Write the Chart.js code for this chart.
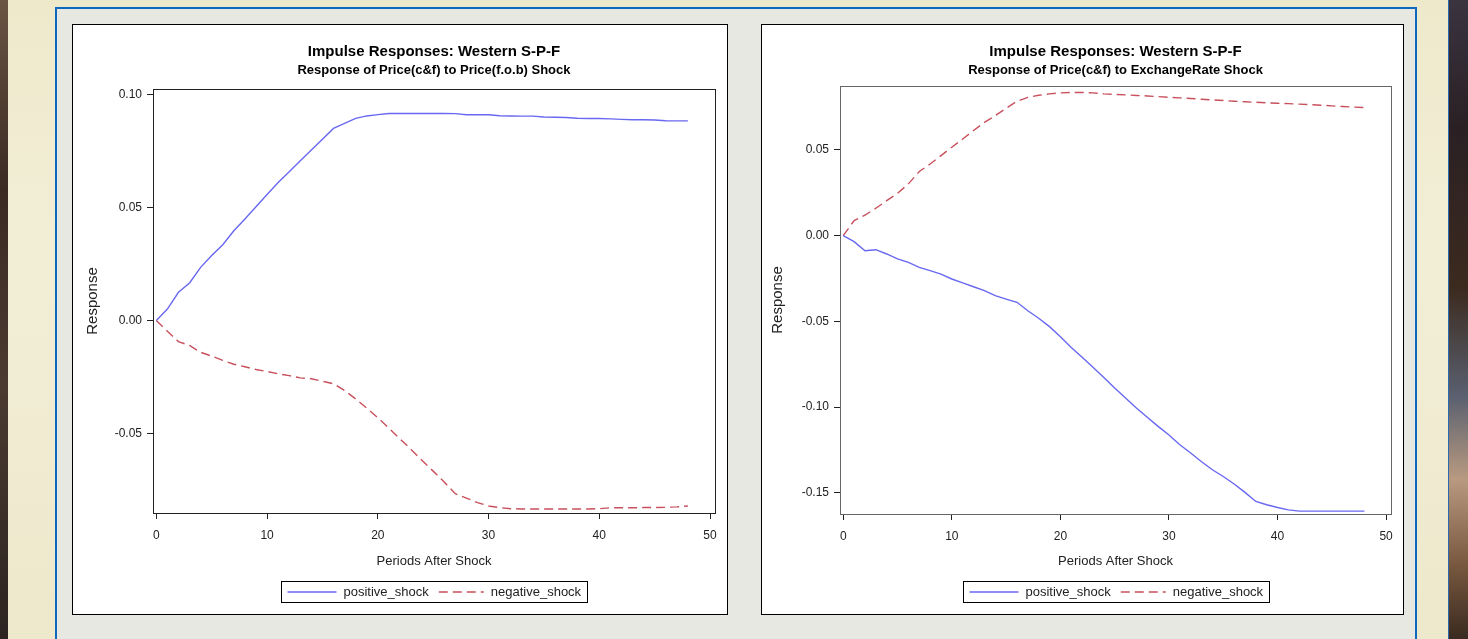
<!DOCTYPE html>
<html>
<head>
<meta charset="utf-8">
<script src="https://cdn.jsdelivr.net/npm/chart.js@4/dist/chart.umd.min.js"></script>
<style>
  html,body{margin:0;padding:0;}
  body{width:1468px;height:639px;overflow:hidden;position:relative;
       background:linear-gradient(180deg,#efe9cc 0%,#f2eed6 40%,#eee8cc 100%);
       font-family:"Liberation Sans",Arial,sans-serif;}
  #stripL{position:absolute;left:0;top:0;width:8px;height:639px;
       background:linear-gradient(180deg,#6a5443 0%,#3a2a22 30%,#4a3a30 60%,#2c2420 100%);}
  #stripR{position:absolute;left:1448px;top:0;width:20px;height:639px;
       background:linear-gradient(180deg,#3a3440 0%,#2a2024 20%,#3b2a1e 45%,#5a6070 62%,#b89a80 75%,#7a5a40 88%,#3a2a20 100%);
       border-left:1px solid #2a6ab0;}
  #panel{position:absolute;left:55px;top:7px;width:1358px;height:660px;
       border:2px solid #0a68be;background:#e8e8e3;}
  .box{position:absolute;top:24px;height:589px;border:1px solid #000;background:#fff;}
  #boxL{left:72px;width:654px;}
  #boxR{left:761px;width:641px;}
  canvas{position:absolute;left:0;top:0;}
</style>
</head>
<body>
<div id="stripL"></div>
<div id="stripR"></div>
<div id="panel"></div>
<div class="box" id="boxL"><canvas id="c1" width="654" height="589"></canvas></div>
<div class="box" id="boxR"><canvas id="c2" width="641" height="589"></canvas></div>
<script>
// ---------- data ----------
const periods = [0,1,2,3,4,5,6,7,8,9,10,11,12,13,14,15,16,17,18,19,20,21,22,23,24,25,26,27,28,29,30,31,32,33,34,35,36,37,38,39,40,41,42,43,44,45,46,47,48];

const seriesNames = ['positive_shock', 'negative_shock'];

// Chart 1: Response of Price(c&f) to Price(f.o.b) Shock
const fobPositive = [0,0.0051,0.0125,0.0166,0.0235,0.0287,0.0335,0.0397,0.0449,0.0503,0.0557,0.0610,0.0657,0.0706,0.0754,0.0801,0.0849,0.0871,0.0893,0.0904,0.0910,0.0915,0.0915,0.0915,0.0915,0.0915,0.0915,0.0914,0.0909,0.0909,0.0909,0.0905,0.0904,0.0903,0.0903,0.0899,0.0898,0.0897,0.0894,0.0893,0.0893,0.0891,0.0889,0.0887,0.0887,0.0886,0.0883,0.0882,0.0882];
const fobNegative = [0,-0.0047,-0.0093,-0.0110,-0.0140,-0.0157,-0.0176,-0.0193,-0.0204,-0.0216,-0.0225,-0.0235,-0.0243,-0.0253,-0.0257,-0.0268,-0.0279,-0.0309,-0.0346,-0.0387,-0.0429,-0.0475,-0.0522,-0.0569,-0.0618,-0.0665,-0.0713,-0.0765,-0.0784,-0.0804,-0.0819,-0.0826,-0.0831,-0.0832,-0.0832,-0.0832,-0.0832,-0.0832,-0.0832,-0.0832,-0.0831,-0.0827,-0.0827,-0.0827,-0.0826,-0.0826,-0.0825,-0.0823,-0.0819];

// Chart 2: Response of Price(c&f) to ExchangeRate Shock
const exrPositive = [0,-0.0035,-0.0088,-0.0082,-0.0107,-0.0136,-0.0156,-0.0185,-0.0204,-0.0224,-0.0253,-0.0276,-0.0298,-0.0321,-0.0350,-0.0370,-0.0389,-0.0438,-0.0482,-0.0531,-0.0590,-0.0652,-0.0710,-0.0768,-0.0827,-0.0889,-0.0947,-0.1006,-0.1060,-0.1113,-0.1163,-0.1220,-0.1268,-0.1319,-0.1366,-0.1405,-0.1449,-0.1498,-0.1551,-0.1570,-0.1586,-0.1600,-0.1607,-0.1607,-0.1607,-0.1607,-0.1607,-0.1607,-0.1607];
const exrNegative = [0,0.0088,0.0120,0.0160,0.0204,0.0247,0.0302,0.0374,0.0418,0.0467,0.0516,0.0564,0.0613,0.0661,0.0700,0.0743,0.0784,0.0807,0.0819,0.0827,0.0833,0.0835,0.0835,0.0833,0.0827,0.0824,0.0821,0.0818,0.0815,0.0811,0.0807,0.0804,0.0800,0.0796,0.0792,0.0788,0.0784,0.0781,0.0778,0.0775,0.0772,0.0770,0.0767,0.0764,0.0761,0.0757,0.0753,0.0750,0.0747];

const xTickValues = [0,10,20,30,40,50];
const xTickLabels = ['0','10','20','30','40','50'];
const yTicks1 = [-0.05,0,0.05,0.10];
const yTickLabels1 = ['-0.05','0.00','0.05','0.10'];
const yTicks2 = [-0.15,-0.10,-0.05,0,0.05];
const yTickLabels2 = ['-0.15','-0.10','-0.05','0.00','0.05'];

const mainTitle = 'Impulse Responses: Western S-P-F';
const subTitle1 = 'Response of Price(c&f) to Price(f.o.b) Shock';
const subTitle2 = 'Response of Price(c&f) to ExchangeRate Shock';
const xAxisTitle = 'Periods After Shock';
const yAxisTitle = 'Response';

// ---------- styling ----------
const FONT = '"Liberation Sans", Arial, sans-serif';
const BLUE = '#6868f0';
const RED = '#c8505c';

const decorPlugin = {
  id: 'decor',
  afterDraw(chart, args, opts) {
    const ctx = chart.ctx;
    const a = chart.chartArea;
    const cx = (a.left + a.right) / 2;
    ctx.save();
    // frame
    ctx.strokeStyle = opts.frameColor;
    ctx.lineWidth = 1;
    ctx.strokeRect(Math.round(a.left) + 0.5, Math.round(a.top) + 0.5,
                   Math.round(a.right - a.left), Math.round(a.bottom - a.top));
    // titles
    ctx.fillStyle = '#000';
    ctx.textAlign = 'center';
    ctx.textBaseline = 'alphabetic';
    ctx.font = 'bold 15px ' + FONT;
    ctx.fillText(opts.title, cx, 30.7);
    ctx.font = 'bold 13px ' + FONT;
    ctx.fillText(opts.subtitle, cx, 49.3);
    // legend
    const ds = chart.data.datasets;
    ctx.font = '13px ' + FONT;
    const sampleW = [49, 45];
    const tw = ds.map(d => ctx.measureText(d.label).width);
    const pad = 6, gapT = 7, gapS = 10;
    const boxW = pad + sampleW[0] + gapT + tw[0] + gapS + sampleW[1] + gapT + tw[1] + pad;
    const bx = Math.round(cx - boxW / 2) + 0.5;
    const by = opts.legendTop + 0.5;
    const bh = 21;
    ctx.strokeStyle = '#000';
    ctx.lineWidth = 1;
    ctx.strokeRect(bx, by, Math.round(boxW), bh);
    const my = by + bh / 2;
    let x = bx + pad;
    ds.forEach((d, i) => {
      ctx.save();
      ctx.strokeStyle = d.borderColor;
      ctx.lineWidth = d.borderWidth;
      ctx.setLineDash(d.borderDash || []);
      ctx.beginPath();
      ctx.moveTo(x, my);
      ctx.lineTo(x + sampleW[i], my);
      ctx.stroke();
      ctx.restore();
      x += sampleW[i] + gapT;
      ctx.fillStyle = '#222';
      ctx.textAlign = 'left';
      ctx.textBaseline = 'middle';
      ctx.fillText(d.label, x, my + 0.5);
      x += tw[i] + gapS;
    });
    ctx.restore();
  }
};

function makeChart(id, pos, neg, cfg) {
  const toPts = arr => periods.map((p, i) => ({x: p, y: arr[i]}));
  return new Chart(document.getElementById(id), {
    type: 'line',
    data: {
      datasets: [
        {label: seriesNames[0], data: toPts(pos), borderColor: BLUE, borderWidth: 1.4, pointRadius: 0, tension: 0, fill: false},
        {label: seriesNames[1], data: toPts(neg), borderColor: RED, borderWidth: 1.4, borderDash: [9, 5], pointRadius: 0, tension: 0, fill: false}
      ]
    },
    plugins: [decorPlugin],
    options: {
      responsive: false,
      animation: false,
      devicePixelRatio: 1,
      events: [],
      layout: {padding: {left: 0, right: cfg.padRight, top: cfg.padTop, bottom: 0}},
      plugins: {
        legend: {display: false},
        title: {display: false},
        tooltip: {enabled: false},
        decor: {title: mainTitle, subtitle: cfg.subtitle, frameColor: cfg.frameColor, legendTop: 556}
      },
      scales: {
        x: {
          type: 'linear',
          min: -0.3, max: 50.45,
          afterBuildTicks: s => { s.ticks = xTickValues.map(v => ({value: v})); },
          afterFit: s => { s.height = cfg.xHeight; },
          ticks: {
            font: {family: FONT, size: 12}, color: '#222', padding: 9, maxRotation: 0,
            callback: (v, i) => xTickLabels[i]
          },
          grid: {display: true, drawOnChartArea: false, drawTicks: true, tickLength: 6, color: '#222'},
          border: {display: false},
          title: {display: true, text: xAxisTitle, font: {family: FONT, size: 13}, color: '#222', padding: {top: 0, bottom: 44.7}}
        },
        y: {
          type: 'linear',
          min: cfg.yMin, max: cfg.yMax,
          afterBuildTicks: s => { s.ticks = cfg.yTicks.map(v => ({value: v})); },
          afterFit: s => { s.width = cfg.yWidth; },
          ticks: {
            font: {family: FONT, size: 12}, color: '#222', padding: 5,
            callback: (v, i) => cfg.yLabels[i]
          },
          grid: {display: true, drawOnChartArea: false, drawTicks: true, tickLength: 6, color: '#222'},
          border: {display: false},
          title: {display: true, text: yAxisTitle, font: {family: FONT, size: 15}, color: '#222', padding: {top: cfg.yTitlePad, bottom: 0}}
        }
      }
    }
  });
}

makeChart('c1', fobPositive, fobNegative, {
  subtitle: subTitle1, frameColor: '#222',
  padRight: 12, padTop: 64, xHeight: 101, yWidth: 80, yTitlePad: 10.5,
  yMin: -0.0850, yMax: 0.1023, yTicks: yTicks1, yLabels: yTickLabels1
});
makeChart('c2', exrPositive, exrNegative, {
  subtitle: subTitle2, frameColor: '#666',
  padRight: 12, padTop: 61, xHeight: 100, yWidth: 78, yTitlePad: 7,
  yMin: -0.1624, yMax: 0.0873, yTicks: yTicks2, yLabels: yTickLabels2
});
</script>
</body>
</html>
